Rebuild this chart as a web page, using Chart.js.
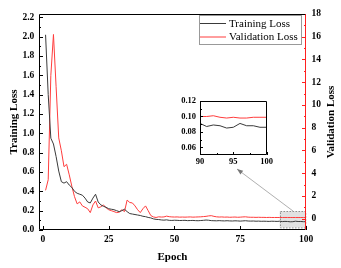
<!DOCTYPE html>
<html>
<head>
<meta charset="utf-8">
<script src="https://cdn.jsdelivr.net/npm/chart.js@4.4.0/dist/chart.umd.min.js"></script>
<style>
  html, body { margin: 0; padding: 0; background: #fff; }
  #wrap { position: relative; width: 341px; height: 268px; }
  #main { position: absolute; left: 0; top: 0; }
  #inset { position: absolute; left: 150px; top: 92px; }
</style>
</head>
<body>
<div id="wrap">
  <canvas id="main" width="341" height="268"></canvas>
  <canvas id="inset" width="125" height="76"></canvas>
</div>
<script>
// data
const epochs = [
  1, 2, 3, 4, 5, 6, 7, 8, 9, 10, 11, 12, 13, 14, 15, 16, 17, 18, 19, 20,
  21, 22, 23, 24, 25, 26, 27, 28, 29, 30, 31, 32, 33, 34, 35, 36, 37, 38, 39, 40,
  41, 42, 43, 44, 45, 46, 47, 48, 49, 50, 51, 52, 53, 54, 55, 56, 57, 58, 59, 60,
  61, 62, 63, 64, 65, 66, 67, 68, 69, 70, 71, 72, 73, 74, 75, 76, 77, 78, 79, 80,
  81, 82, 83, 84, 85, 86, 87, 88, 89, 90, 91, 92, 93, 94, 95, 96, 97, 98, 99, 100
];
const trainingLoss = [
  2.02, 1.40, 0.95, 0.89, 0.76, 0.61, 0.50, 0.485, 0.50, 0.465,
  0.44, 0.40, 0.38, 0.37, 0.36, 0.33, 0.29, 0.28, 0.33, 0.37,
  0.29, 0.26, 0.245, 0.235, 0.22, 0.215, 0.21, 0.20, 0.19, 0.20,
  0.215, 0.19, 0.17, 0.165, 0.16, 0.155, 0.15, 0.142, 0.138, 0.13,
  0.125, 0.115, 0.11, 0.108, 0.104, 0.102, 0.105, 0.100, 0.099, 0.101,
  0.100, 0.098, 0.099, 0.100, 0.097, 0.098, 0.099, 0.097, 0.096, 0.098,
  0.100, 0.103, 0.101, 0.097, 0.096, 0.095, 0.097, 0.095, 0.094, 0.096,
  0.094, 0.093, 0.095, 0.094, 0.092, 0.094, 0.096, 0.093, 0.092, 0.093,
  0.091, 0.092, 0.090, 0.091, 0.090, 0.089, 0.091, 0.090, 0.089, 0.091,
  0.087, 0.089, 0.088, 0.085, 0.086, 0.091, 0.088, 0.088, 0.086, 0.086
];
const validationLoss = [
  2.49, 3.42, 12.6, 16.2, 11.6, 7.1, 5.97, 4.57, 4.78, 3.85,
  2.83, 1.93, 1.30, 1.47, 1.12, 1.00, 0.87, 0.53, 1.21, 1.55,
  0.95, 1.04, 1.21, 0.95, 0.78, 0.70, 0.62, 0.53, 0.57, 0.78,
  0.62, 1.63, 1.42, 1.38, 1.12, 0.78, 0.53, 0.87, 1.12, 0.70,
  0.27, 0.15, 0.10, 0.16, 0.14, 0.15, 0.22, 0.17, 0.15, 0.14,
  0.15, 0.13, 0.14, 0.13, 0.14, 0.15, 0.13, 0.14, 0.15, 0.16,
  0.18, 0.20, 0.24, 0.26, 0.20, 0.16, 0.14, 0.15, 0.13, 0.14,
  0.12, 0.13, 0.14, 0.12, 0.13, 0.15, 0.16, 0.13, 0.12, 0.12,
  0.11, 0.12, 0.11, 0.11, 0.10, 0.11, 0.10, 0.10, 0.10, 0.100,
  0.100, 0.101, 0.099, 0.098, 0.099, 0.098, 0.098, 0.099, 0.099, 0.099
];
const epochTicks = [0, 25, 50, 75, 100];
const trainTicks = [0, 0.2, 0.4, 0.6, 0.8, 1.0, 1.2, 1.4, 1.6, 1.8, 2.0, 2.2];
const valTicks = [0, 2, 4, 6, 8, 10, 12, 14, 16, 18];
const insetEpochTicks = [90, 95, 100];
const insetLossTicks = [0.06, 0.08, 0.10, 0.12];
const zoomEpochs = [90, 100];
const zoomLoss = [0.025, 0.195];

const SERIF = '"Liberation Serif", "Times New Roman", serif';
Chart.defaults.font.family = SERIF;
Chart.defaults.color = '#000';

const TRAIN_COLOR = '#3a3a3a';
const VAL_COLOR = '#ff3c3c';

function pts(xs, ys) {
  return xs.map((x, i) => ({ x: x, y: ys[i] }));
}

// inward tick marks + frame
const frameTicks = {
  id: 'frameTicks',
  afterDatasetsDraw(chart, args, opts) {
    const ctx = chart.ctx, a = chart.chartArea;
    ctx.save();
    ctx.lineWidth = 1;
    (opts.axes || []).forEach(ax => {
      const s = chart.scales[ax.id];
      const vals = s.ticks.map(t => t.value);
      const marks = [];
      vals.forEach((v, i) => {
        marks.push([v, ax.major]);
        if (ax.minor && i < vals.length - 1) marks.push([(v + vals[i + 1]) / 2, ax.minor]);
      });
      ctx.strokeStyle = ax.color;
      ctx.beginPath();
      marks.forEach(([v, len]) => {
        const p = Math.round(s.getPixelForValue(v)) + 0.5;
        if (ax.side === 'left') { ctx.moveTo(a.left, p); ctx.lineTo(a.left + len, p); }
        if (ax.side === 'right') { ctx.moveTo(a.right, p); ctx.lineTo(a.right - len, p); }
        if (ax.side === 'bottom') { ctx.moveTo(p, a.bottom); ctx.lineTo(p, a.bottom - len); }
      });
      ctx.stroke();
    });
    const L = Math.round(a.left) + 0.5, R = Math.round(a.right) - 0.5;
    const T = Math.round(a.top) + 0.5, B = Math.round(a.bottom) - 0.5;
    ctx.strokeStyle = '#000';
    ctx.beginPath();
    ctx.moveTo(R, T); ctx.lineTo(L, T); ctx.lineTo(L, B); ctx.lineTo(R, B);
    ctx.stroke();
    ctx.strokeStyle = opts.rightColor || '#000';
    ctx.beginPath();
    ctx.moveTo(R, T); ctx.lineTo(R, B);
    ctx.stroke();
    ctx.restore();
  }
};

// shaded zoom region, arrow, legend box, right axis title
const mainDecor = {
  id: 'mainDecor',
  beforeDatasetsDraw(chart) {
    const ctx = chart.ctx, x = chart.scales.x, y = chart.scales.y;
    const x0 = x.getPixelForValue(zoomEpochs[0]), x1 = x.getPixelForValue(zoomEpochs[1]);
    const y0 = y.getPixelForValue(zoomLoss[1]), y1 = y.getPixelForValue(zoomLoss[0]);
    ctx.save();
    ctx.fillStyle = 'rgba(200,200,200,0.55)';
    ctx.fillRect(x0, y0, x1 - x0, y1 - y0);
    ctx.setLineDash([1.5, 1.5]);
    ctx.strokeStyle = '#777';
    ctx.lineWidth = 0.8;
    ctx.strokeRect(Math.round(x0) + 0.5, Math.round(y0) + 0.5, x1 - x0 - 1, y1 - y0);
    ctx.restore();
  },
  afterDraw(chart) {
    const ctx = chart.ctx, a = chart.chartArea;
    ctx.save();
    // arrow from the zoom box to the inset
    const tx = 293, ty = 211, hx = 237, hy = 169;
    ctx.strokeStyle = '#9a9a9a';
    ctx.lineWidth = 0.8;
    ctx.beginPath(); ctx.moveTo(tx, ty); ctx.lineTo(hx, hy); ctx.stroke();
    const ang = Math.atan2(hy - ty, hx - tx);
    ctx.fillStyle = '#777';
    ctx.beginPath();
    ctx.moveTo(hx, hy);
    ctx.lineTo(hx - 6 * Math.cos(ang) + 2.3 * Math.sin(ang), hy - 6 * Math.sin(ang) - 2.3 * Math.cos(ang));
    ctx.lineTo(hx - 6 * Math.cos(ang) - 2.3 * Math.sin(ang), hy - 6 * Math.sin(ang) + 2.3 * Math.cos(ang));
    ctx.closePath(); ctx.fill();

    // legend
    ctx.strokeStyle = '#999';
    ctx.lineWidth = 1;
    ctx.strokeRect(199.5, 15.5, 102, 29);
    ctx.font = '11px ' + SERIF;
    ctx.textBaseline = 'middle';
    ctx.fillStyle = '#000';
    chart.data.datasets.forEach((ds, i) => {
      const ly = 23.5 + i * 13.5;
      ctx.strokeStyle = ds.borderColor;
      ctx.beginPath(); ctx.moveTo(200, ly); ctx.lineTo(226, ly); ctx.stroke();
      ctx.fillText(ds.label, 229, ly + 0.5);
    });

    // right title
    ctx.font = 'bold 11px ' + SERIF;
    ctx.textAlign = 'center';
    ctx.translate(331, (a.top + a.bottom) / 2);
    ctx.rotate(-Math.PI / 2);
    ctx.fillText('Validation Loss', 0, 0);
    ctx.restore();
  }
};

const tickFont = { size: 9.5, weight: 'bold' };

new Chart(document.getElementById('main'), {
  type: 'line',
  data: {
    datasets: [
      { label: 'Training Loss', data: pts(epochs, trainingLoss), yAxisID: 'y',
        borderColor: TRAIN_COLOR, borderWidth: 1, pointRadius: 0, tension: 0 },
      { label: 'Validation Loss', data: pts(epochs, validationLoss), yAxisID: 'y2',
        borderColor: VAL_COLOR, borderWidth: 1, pointRadius: 0, tension: 0 }
    ]
  },
  options: {
    responsive: false,
    animation: false,
    layout: { padding: { top: 14, left: 0, right: 0, bottom: 0 } },
    plugins: {
      legend: { display: false },
      tooltip: { enabled: false },
      frameTicks: {
        rightColor: '#ff2020',
        axes: [
          { id: 'y', side: 'left', color: '#000', major: 4, minor: 2 },
          { id: 'y2', side: 'right', color: '#ff2020', major: 4, minor: 2 },
          { id: 'x', side: 'bottom', color: '#000', major: 4, minor: 0 }
        ]
      }
    },
    scales: {
      x: {
        type: 'linear', min: -1.5, max: 100,
        grid: { display: false, drawTicks: false },
        border: { display: false },
        afterBuildTicks: s => { s.ticks = epochTicks.map(v => ({ value: v })); },
        afterFit: s => { s.height = 38; },
        ticks: { font: tickFont, padding: 4, maxRotation: 0, callback: v => String(v) },
        title: { display: true, text: 'Epoch', font: { size: 11, weight: 'bold' }, padding: { top: 0, bottom: 4.7 } }
      },
      y: {
        position: 'left', min: 0, max: 2.235,
        grid: { display: false, drawTicks: false },
        border: { display: false },
        afterBuildTicks: s => { s.ticks = trainTicks.map(v => ({ value: v })); },
        afterFit: s => { s.width = 39; },
        ticks: { font: tickFont, padding: 4.7, callback: v => v.toFixed(1) },
        title: { display: true, text: 'Training Loss', font: { size: 11, weight: 'bold' }, padding: { top: 7.4, bottom: 0 } }
      },
      y2: {
        position: 'right', min: -1, max: 18,
        grid: { display: false, drawTicks: false },
        border: { display: false },
        afterBuildTicks: s => { s.ticks = valTicks.map(v => ({ value: v })); },
        afterFit: s => { s.width = 35; },
        ticks: { font: tickFont, padding: 5.5, callback: v => String(v) }
      }
    }
  },
  plugins: [mainDecor, frameTicks]
});

// inset: last ten epochs
const insetEpochs = epochs.slice(89);
new Chart(document.getElementById('inset'), {
  type: 'line',
  data: {
    datasets: [
      { data: pts(insetEpochs, trainingLoss.slice(89)),
        borderColor: TRAIN_COLOR, borderWidth: 1, pointRadius: 0, tension: 0 },
      { data: pts(insetEpochs, validationLoss.slice(89)),
        borderColor: VAL_COLOR, borderWidth: 1, pointRadius: 0, tension: 0 }
    ]
  },
  options: {
    responsive: false,
    animation: false,
    layout: { padding: { top: 8, right: 8, left: 0, bottom: 0 } },
    plugins: {
      legend: { display: false },
      tooltip: { enabled: false },
      frameTicks: {
        rightColor: '#000',
        axes: [
          { id: 'y', side: 'left', color: '#000', major: 3, minor: 2 },
          { id: 'x', side: 'bottom', color: '#000', major: 3, minor: 2 }
        ]
      }
    },
    scales: {
      x: {
        type: 'linear', min: 90, max: 100,
        grid: { display: false, drawTicks: false },
        border: { display: false },
        afterBuildTicks: s => { s.ticks = insetEpochTicks.map(v => ({ value: v })); },
        afterFit: s => { s.height = 13; },
        ticks: { font: { size: 8.5, weight: 'bold' }, padding: 2, maxRotation: 0, callback: v => String(v) }
      },
      y: {
        min: 0.05, max: 0.12,
        grid: { display: false, drawTicks: false },
        border: { display: false },
        afterBuildTicks: s => { s.ticks = insetLossTicks.map(v => ({ value: v })); },
        afterFit: s => { s.width = 50; },
        ticks: { font: { size: 8.5, weight: 'bold' }, padding: 4, callback: v => v.toFixed(2) }
      }
    }
  },
  plugins: [frameTicks]
});
</script>
</body>
</html>
